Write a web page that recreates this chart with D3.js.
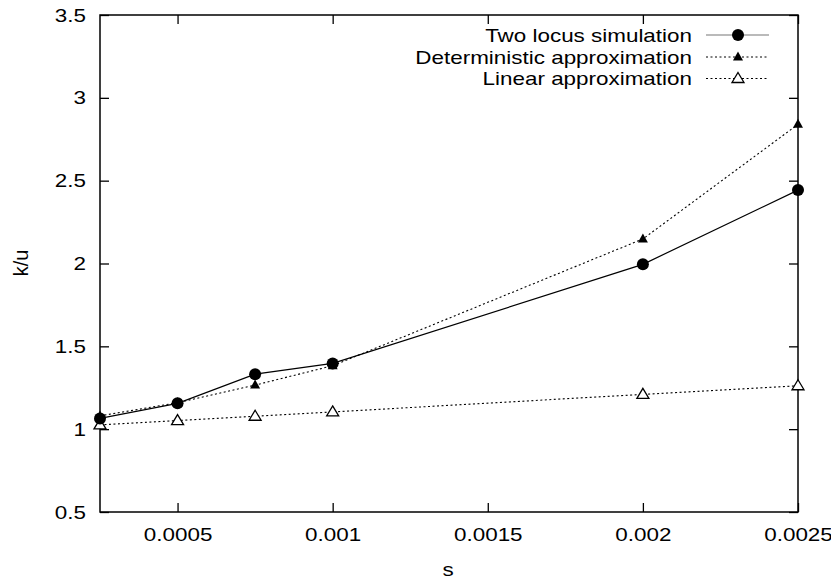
<!DOCTYPE html>
<html>
<head>
<meta charset="utf-8">
<script src="https://cdn.jsdelivr.net/npm/d3@7"></script>
<style>
  html, body { margin: 0; padding: 0; background: #fff; }
  svg { display: block; }
  text { font-family: "Liberation Sans", Arial, Helvetica, sans-serif; fill: #000; }
</style>
</head>
<body>
<svg id="chart" width="831" height="582"></svg>
<script>
// ---- data ----
const sValues = [0.00025, 0.0005, 0.00075, 0.001, 0.002, 0.0025];
const twoLocus = [1.065, 1.156, 1.332, 1.397, 1.995, 2.443];
const deterministic = [1.08, 1.16, 1.266, 1.383, 2.148, 2.84];
const linearApprox = [1.026, 1.052, 1.078, 1.104, 1.21, 1.262];
const xTicks = [0.0005, 0.001, 0.0015, 0.002, 0.0025];
const xTickLabels = ["0.0005", "0.001", "0.0015", "0.002", "0.0025"];
const yTicks = [0.5, 1, 1.5, 2, 2.5, 3, 3.5];
const yTickLabels = ["0.5", "1", "1.5", "2", "2.5", "3", "3.5"];
const seriesNames = ["Two locus simulation", "Deterministic approximation", "Linear approximation"];
const xLabel = "s";
const yLabel = "k/u";

(function () {
const svg = d3.select("#chart");
const pLeft = 100, pRight = 798, pTop = 15, pBottom = 512;
const x = d3.scaleLinear().domain([0.00025, 0.0025]).range([pLeft, pRight]);
const y = d3.scaleLinear().domain([0.5, 3.5]).range([pBottom, pTop]);
const fontSize = 19;
const hStretch = 1.18;
const tickLen = 9;

function stretch(sel) {
  sel.each(function () {
    const w = this.getComputedTextLength();
    if (w > 0) d3.select(this).attr("textLength", w * hStretch).attr("lengthAdjust", "spacingAndGlyphs");
  });
}

function styleAxis(g) {
  g.select(".domain").remove();
  g.selectAll(".tick line").attr("stroke", "#000").attr("stroke-width", 1.3);
  g.selectAll(".tick text").attr("font-size", fontSize).attr("font-family", '"Liberation Sans", Arial, sans-serif').attr("fill", "#000");
}
svg.append("g").attr("transform", `translate(0,${pBottom})`)
  .call(d3.axisBottom(x).tickValues(xTicks).tickFormat((d, i) => xTickLabels[i]).tickSize(-tickLen).tickPadding(16))
  .call(styleAxis).selectAll(".tick text").call(stretch);
svg.append("g").attr("transform", `translate(0,${pTop})`)
  .call(d3.axisTop(x).tickValues(xTicks).tickFormat("").tickSize(-tickLen))
  .call(styleAxis);
svg.append("g").attr("transform", `translate(${pLeft},0)`)
  .call(d3.axisLeft(y).tickValues(yTicks).tickFormat((d, i) => yTickLabels[i]).tickSize(-tickLen).tickPadding(14))
  .call(styleAxis).selectAll(".tick text").call(stretch);
svg.append("g").attr("transform", `translate(${pRight},0)`)
  .call(d3.axisRight(y).tickValues(yTicks).tickFormat("").tickSize(-tickLen))
  .call(styleAxis);

svg.append("rect").attr("x", pLeft).attr("y", pTop).attr("width", pRight - pLeft).attr("height", pBottom - pTop)
  .attr("fill", "none").attr("stroke", "#000").attr("stroke-width", 1.5);

svg.append("text").attr("x", 448).attr("y", 569).attr("dy", "0.35em").attr("text-anchor", "middle")
  .attr("font-size", fontSize).text(xLabel).call(stretch);
svg.append("text").attr("transform", "translate(21,263) rotate(-90)").attr("dy", "0.35em").attr("text-anchor", "middle")
  .attr("font-size", 20).text(yLabel);

const series = [
  { name: seriesNames[0], values: twoLocus, dash: null, marker: "circle" },
  { name: seriesNames[1], values: deterministic, dash: "2,2.5", marker: "triFilled" },
  { name: seriesNames[2], values: linearApprox, dash: "2,2.5", marker: "triOpen" }
];

const line = d3.line().x(d => x(d[0])).y(d => y(d[1]));

function drawMarker(g, marker, cx, cy) {
  if (marker === "circle") {
    g.append("circle").attr("cx", cx).attr("cy", cy).attr("r", 6).attr("fill", "#000");
  } else if (marker === "triFilled") {
    g.append("path").attr("d", "M0,-5.5L5,3.5L-5,3.5Z").attr("transform", `translate(${cx},${cy})`).attr("fill", "#000");
  } else {
    g.append("path").attr("d", "M0,-6L6,4L-6,4Z").attr("transform", `translate(${cx},${cy})`)
      .attr("fill", "#fff").attr("stroke", "#000").attr("stroke-width", 1.3);
  }
}

series.slice().reverse().forEach(s => {
  const pts = sValues.map((v, i) => [v, s.values[i]]);
  const g = svg.append("g");
  g.append("path").attr("d", line(pts)).attr("fill", "none").attr("stroke", "#000")
    .attr("stroke-width", s.dash ? 1.1 : 1.2).attr("stroke-dasharray", s.dash);
  pts.forEach(p => drawMarker(g, s.marker, x(p[0]), y(p[1])));
});

const legendRows = [35, 57, 78.5];
series.forEach((s, i) => {
  const ly = legendRows[i];
  const g = svg.append("g");
  g.append("text").attr("x", 692).attr("y", ly).attr("dy", "0.35em").attr("text-anchor", "end")
    .attr("font-size", fontSize).text(s.name).call(stretch);
  g.append("line").attr("x1", 706).attr("x2", 769).attr("y1", ly).attr("y2", ly)
    .attr("stroke", s.dash ? "#000" : "#777").attr("stroke-width", s.dash ? 1 : 1.2).attr("stroke-dasharray", s.dash);
  drawMarker(g, s.marker, 738, ly);
});
})();
</script>
</body>
</html>
